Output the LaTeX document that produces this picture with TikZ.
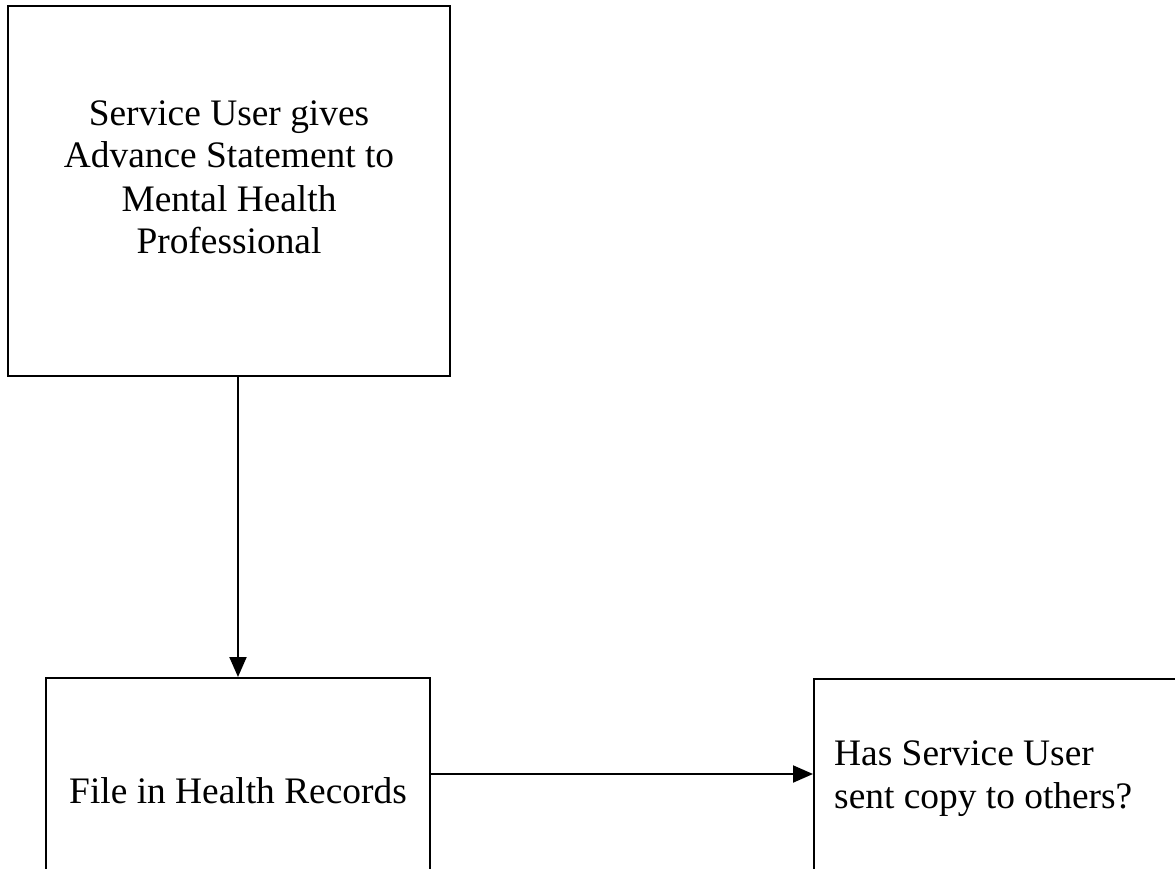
\documentclass[tikz,border=0pt]{standalone}
\usepackage{fontspec}
\setmainfont{Liberation Serif}
\usetikzlibrary{arrows.meta}
\begin{document}
\begin{tikzpicture}[x=1pt,y=-1pt,
  box/.style={draw,line width=2pt,rectangle,inner sep=0pt},
  txt/.style={font=\fontsize{37.4}{43}\selectfont,inner sep=0pt},
  conn/.style={line width=2pt,-{Triangle[length=20pt,width=17pt]}}]
\useasboundingbox (0,0) rectangle (1175,869);
\clip (0,0) rectangle (1175,869);
\node[box,minimum width=442pt,minimum height=370pt] (b1) at (229,191) {};
\node[box,minimum width=384pt,minimum height=300pt] (b2) at (238,828) {};
\node[box,minimum width=400pt,minimum height=300pt,anchor=north west] (b3) at (813,678) {};
\node[txt,align=center,anchor=base] (t1) at (229,254) {Service User gives\\Advance Statement to\\Mental Health\\Professional};
\node[txt,anchor=base] (t2) at (238,803) {File in Health Records};
\node[txt,align=left,anchor=base west] (t3) at (834,808) {Has Service User\\sent copy to others?};
\draw[conn] (b1.south -| 238,0) -- (b2.north -| 238,0);
\coordinate (a2) at (b2.east |- 0,774);
\coordinate (a3) at (b3.west |- 0,774);
\draw[conn] (a2) -- (a3);
\end{tikzpicture}
\end{document}
